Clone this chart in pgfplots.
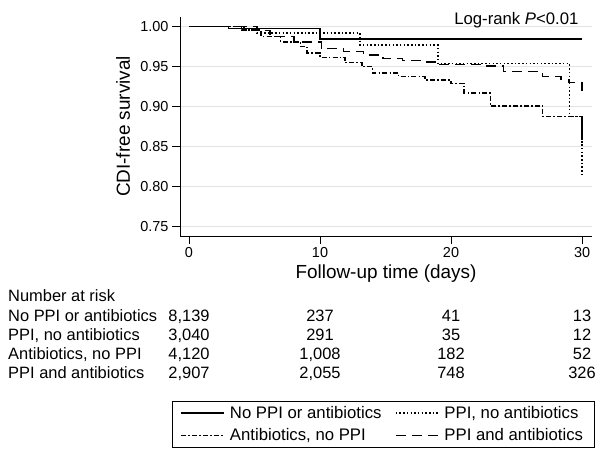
\documentclass[border=0pt]{standalone}
\usepackage{fontspec}
\setmainfont{Liberation Sans}
\usepackage{pgfplots}
\pgfplotsset{compat=1.18}
\begin{document}
\begin{tikzpicture}
\path[use as bounding box] (0,0) rectangle (607bp,-457bp);
\begin{axis}[
  at={(180bp,-236bp)}, anchor=south west,
  width=412bp, height=219bp, scale only axis,
  xmin=-0.687, xmax=30.76, ymin=0.7384, ymax=1.0121,
  axis x line=bottom, axis y line=left,
  axis line style={-, line width=0.9bp},
  xtick={0,10,20,30}, ytick={0.75,0.8,0.85,0.9,0.95,1},
  /pgf/number format/assume math mode=true,
  yticklabel style={/pgf/number format/.cd, fixed, fixed zerofill, precision=2},
  tick label style={font=\fontsize{14.5}{16}\selectfont},
  tick align=outside, major tick length=8bp,
  tick style={line width=0.9bp, black},
  ymajorgrids, grid style={gray!22, line width=0.8bp},
  xlabel={Follow-up time (days)}, ylabel={CDI-free survival},
  label style={font=\fontsize{19}{22}\selectfont},
  x label style={at={(axis description cs:0.5,-0.1918)}, anchor=base},
  y label style={at={(axis description cs:-0.1383,0.5)}, anchor=center},
  clip=false,
  legend columns=2,
  legend cell align=left,
  legend image code/.code={\draw[#1] (0bp,0bp) -- (43bp,0bp);},
  legend style={at={(-0.0194,-0.7535)}, anchor=north west,
    draw=black, line width=0.9bp, inner xsep=8bp, inner ysep=3.2bp,
    font=\fontsize{16.8}{20}\selectfont,
    nodes={inner sep=0pt, text height=13.5bp, text depth=3.5bp},
    row sep=5.4bp,
    /tikz/every odd column/.append style={column sep=5bp},
    /tikz/every even column/.append style={column sep=5bp}},
]
\addplot[const plot, line width=1.5bp] coordinates {
 (0,1.0) (3,0.998) (10,0.9846) (30,0.9846)};
\addlegendentry{\makebox[160bp][l]{No PPI or antibiotics}}
\addplot[const plot, line width=1.5bp, dash pattern=on 1.5bp off 2.2bp] coordinates {
 (0,1.0) (4.0,0.996) (5.2,0.992) (13.05,0.977) (19.0,0.954) (29.03,0.888) (30,0.8125)};
\addlegendentry{\makebox[142bp][l]{PPI, no antibiotics}}
\addplot[const plot, line width=1.5bp, dash pattern=on 5bp off 2.2bp on 1.5bp off 2.2bp] coordinates {
 (0,1.0) (4.2,0.996) (5.5,0.988) (7.0,0.981) (8.5,0.975) (9.0,0.967) (10.0,0.9615)
 (11.9,0.955) (13.2,0.950) (14.0,0.942) (16.0,0.9375) (18.0,0.9335) (20.0,0.929)
 (21.0,0.917) (23.0,0.901) (27.0,0.888) (30.0,0.855)};
\addlegendentry{\makebox[160bp][l]{Antibiotics, no PPI}}
\addplot[const plot, line width=1.5bp, dash pattern=on 10bp off 6bp] coordinates {
 (0,1.0) (5.2,0.995) (6.2,0.9875) (8.0,0.981) (10.1,0.973) (11.8,0.969) (13.3,0.9646)
 (14.8,0.9604) (16.3,0.958) (18.0,0.956) (19.0,0.953) (22.7,0.951) (24.0,0.944)
 (27.0,0.938) (28.4,0.934) (29.0,0.930) (30.0,0.920)};
\addlegendentry{\makebox[142bp][l]{PPI and antibiotics}}
\end{axis}
\node[anchor=base east, font=\fontsize{16.8}{20}\selectfont] at (582bp,-24bp) {Log-rank \textit{P}<0.01};
\begin{scope}[every node/.style={font=\fontsize{16.5}{19}\selectfont, inner sep=0pt}]
\node[anchor=base west] at (8bp,-301bp) {Number at risk};
\node[anchor=base west] at (8bp,-321bp) {No PPI or antibiotics};
\node[anchor=base west] at (8bp,-340bp) {PPI, no antibiotics};
\node[anchor=base west] at (8bp,-359bp) {Antibiotics, no PPI};
\node[anchor=base west] at (8bp,-378bp) {PPI and antibiotics};
\node[anchor=base] at (189bp,-321bp) {8,139};
\node[anchor=base] at (320bp,-321bp) {237};
\node[anchor=base] at (451bp,-321bp) {41};
\node[anchor=base] at (582bp,-321bp) {13};
\node[anchor=base] at (189bp,-340bp) {3,040};
\node[anchor=base] at (320bp,-340bp) {291};
\node[anchor=base] at (451bp,-340bp) {35};
\node[anchor=base] at (582bp,-340bp) {12};
\node[anchor=base] at (189bp,-359bp) {4,120};
\node[anchor=base] at (320bp,-359bp) {1,008};
\node[anchor=base] at (451bp,-359bp) {182};
\node[anchor=base] at (582bp,-359bp) {52};
\node[anchor=base] at (189bp,-378bp) {2,907};
\node[anchor=base] at (320bp,-378bp) {2,055};
\node[anchor=base] at (451bp,-378bp) {748};
\node[anchor=base] at (582bp,-378bp) {326};
\end{scope}
\end{tikzpicture}
\end{document}
